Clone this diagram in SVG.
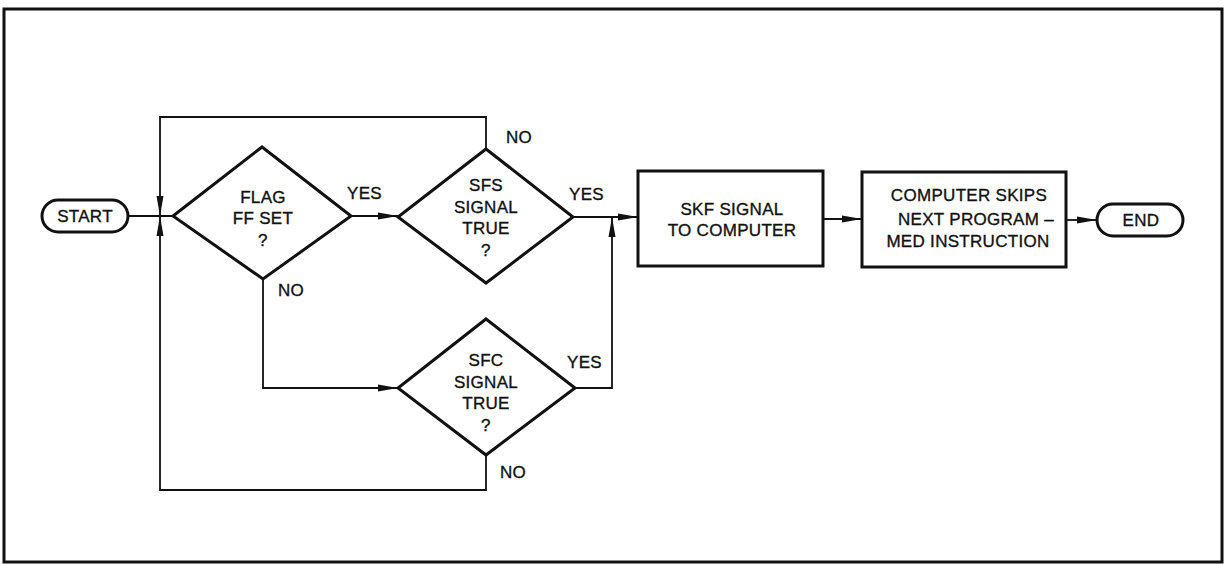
<svg xmlns="http://www.w3.org/2000/svg" width="1225" height="565" viewBox="0 0 1225 565">
<style>
  .t{font-family:"Liberation Sans",Arial,sans-serif;font-size:17px;fill:#111;stroke:#111;stroke-width:0.35;letter-spacing:0.3px;text-anchor:middle}
  .lbl{font-family:"Liberation Sans",Arial,sans-serif;font-size:17px;fill:#111;stroke:#111;stroke-width:0.35;letter-spacing:0.3px}
  .shape{fill:#fff;stroke:#111;stroke-width:3;stroke-linejoin:miter}
  .conn{fill:none;stroke:#111;stroke-width:1.8}
</style>
<defs>
  <marker id="arr" markerUnits="userSpaceOnUse" markerWidth="20" markerHeight="8" refX="20" refY="4" orient="auto">
    <path d="M0,0.5 L20,4 L0,7.5 z" fill="#111"/>
  </marker>
</defs>
<rect width="1225" height="565" fill="#fff"/>
<rect x="4" y="9" width="1218" height="553" fill="none" stroke="#111" stroke-width="3"/>

<g id="connectors">
  <path class="conn" d="M128,216 H173"/>
  <path class="conn" d="M486,149 V117 H160 V216" marker-end="url(#arr)"/>
  <path class="conn" d="M486,455 V490 H160 V216" marker-end="url(#arr)"/>
  <path class="conn" d="M351,216 H398" marker-end="url(#arr)"/>
  <path class="conn" d="M263,279 V388 H398" marker-end="url(#arr)"/>
  <path class="conn" d="M573,217 H638" marker-end="url(#arr)"/>
  <path class="conn" d="M575,388 H612 V217" marker-end="url(#arr)"/>
  <path class="conn" d="M823,219 H862" marker-end="url(#arr)"/>
  <path class="conn" d="M1066,220 H1097" marker-end="url(#arr)"/>
</g>

<g id="labels">
  <text class="lbl" x="347" y="199">YES</text>
  <text class="lbl" x="278" y="296">NO</text>
  <text class="lbl" x="506" y="143">NO</text>
  <text class="lbl" x="569" y="200">YES</text>
  <text class="lbl" x="567" y="368">YES</text>
  <text class="lbl" x="500" y="478">NO</text>
</g>

<g id="start">
  <rect class="shape" x="42" y="200" width="86" height="32" rx="16"/>
  <text class="t" x="85" y="222">START</text>
</g>

<g id="flag">
  <polygon class="shape" points="262,147 351,216 263,279 173,216"/>
  <text class="t" x="263" y="203">FLAG</text>
  <text class="t" x="263" y="224">FF SET</text>
  <text class="t" x="263" y="246">?</text>
</g>

<g id="sfs">
  <polygon class="shape" points="486,149 573,217 486,283 398,217"/>
  <text class="t" x="486" y="191">SFS</text>
  <text class="t" x="486" y="213">SIGNAL</text>
  <text class="t" x="486" y="234">TRUE</text>
  <text class="t" x="486" y="256">?</text>
</g>

<g id="sfc">
  <polygon class="shape" points="486,319 575,388 486,455 398,388"/>
  <text class="t" x="486" y="366">SFC</text>
  <text class="t" x="486" y="388">SIGNAL</text>
  <text class="t" x="486" y="409">TRUE</text>
  <text class="t" x="486" y="431">?</text>
</g>

<g id="skf">
  <rect class="shape" x="638" y="171" width="185" height="95"/>
  <text class="t" x="732" y="215">SKF SIGNAL</text>
  <text class="t" x="732" y="236">TO COMPUTER</text>
</g>

<g id="skip">
  <rect class="shape" x="862" y="172" width="204" height="95"/>
  <text class="t" x="969" y="201">COMPUTER SKIPS</text>
  <text class="t" x="976" y="225">NEXT PROGRAM –</text>
  <text class="t" x="968" y="247">MED INSTRUCTION</text>
</g>

<g id="end">
  <rect class="shape" x="1097" y="204" width="86" height="32" rx="16"/>
  <text class="t" x="1141" y="226">END</text>
</g>
</svg>
